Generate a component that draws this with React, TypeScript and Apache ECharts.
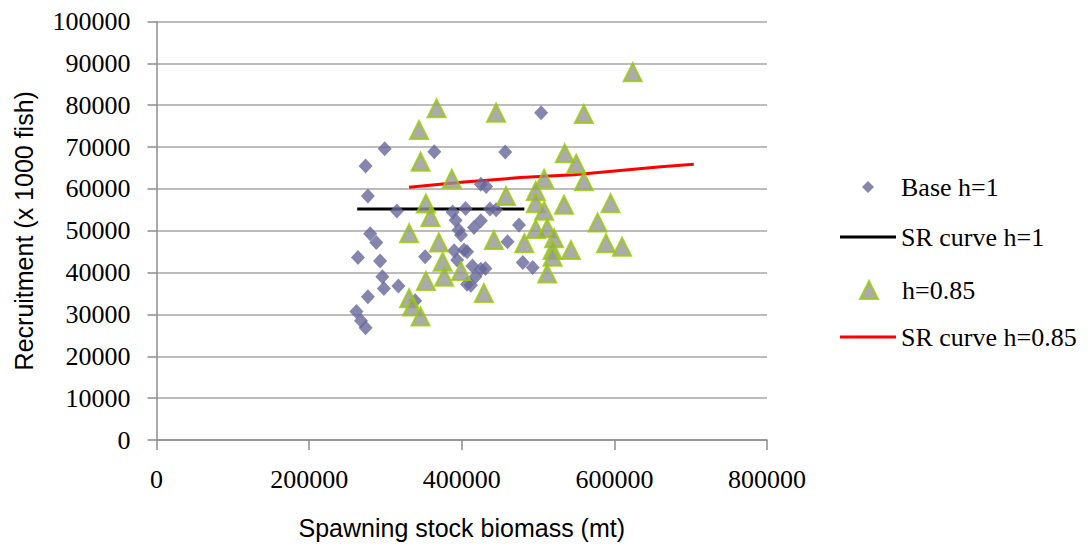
import React, { useEffect, useRef } from "react";
import * as echarts from "echarts";

const baseSSB = [274000,277000,280000,288000,264000,293000,296000,298000,317000,277000,262000,268000,274000,299000,364000,315000,352000,339000,504000,457000,425000,432000,388000,405000,437000,445000,392000,396000,399000,416000,425000,475000,460000,390000,403000,407000,394000,414000,425000,431000,418000,407000,412000,480000,493000];
const baseRec = [65500,58300,49300,47200,43600,42800,39000,36200,36800,34200,30700,28500,26800,69600,68900,54700,43800,33300,78200,68800,61100,60600,54500,55300,55200,55000,52500,50200,49000,50800,52400,51400,47400,45200,45400,45000,43000,41600,40800,41000,39000,37200,37000,42400,41200];

const h85SSB = [624000,367000,445000,560000,344000,346000,535000,550000,560000,387000,508000,458000,497000,497000,353000,359000,534000,595000,508000,578000,331000,370000,442000,482000,497000,512000,521000,519000,543000,589000,610000,519000,375000,399000,377000,353000,512000,429000,331000,335000,346000];
const h85Rec = [87900,79300,78200,77900,74100,66500,68500,66000,61800,62400,62400,58300,59500,56600,56500,53300,56200,56600,54800,52000,49400,47200,47800,47000,50400,50600,48200,45400,45400,47000,46200,43800,42600,40400,39000,38000,39800,35100,33900,31900,29500];

const srBaseSSB = [263000, 482000];
const srBaseRec = [55200, 55200];

const sr85SSB = [331000, 399000, 477000, 547000, 661000, 704000];
const sr85Rec = [60400, 61600, 62700, 63400, 65300, 65900];

const seriesNames = ["Base h=1", "SR curve h=1", "h=0.85", "SR curve h=0.85"];

const zip = (xs: number[], ys: number[]) => xs.map((x, i) => [x, ys[i]]);

const SERIF = "'Liberation Serif', 'Times New Roman', serif";
const SANS = "'Liberation Sans', Arial, sans-serif";

export default function App() {
  const ref = useRef<HTMLDivElement>(null);
  useEffect(() => {
    if (!ref.current) return;
    const chart = echarts.init(ref.current, null, { renderer: "svg" });
    const CX = 868; // legend icon centre x
    const TEXT_X = 901; // legend text start x
    const mkLegend = (
      name: string,
      center: number,
      w: number,
      h: number,
      icon: string,
      color: string,
      border?: string
    ) => ({
      data: [{ name, icon, itemStyle: border ? { color, borderColor: border, borderWidth: 2 } : { color, borderWidth: 0 } }],
      orient: "vertical" as const,
      left: CX - w / 2,
      top: center - 14,
      itemWidth: w,
      itemHeight: h,
      itemGap: 0,
      padding: 0,
      textStyle: {
        fontFamily: SERIF,
        fontSize: 26,
        color: "#000",
        lineHeight: 28,
        padding: [0, 0, 0, TEXT_X - (CX + w / 2) - 5],
      },
      selectedMode: false,
    });
    chart.setOption({
      animation: false,
      backgroundColor: "#fff",
      grid: {
        left: 156.5,
        right: 1092 - 767,
        top: 21.5,
        bottom: 110,
        containLabel: false,
        outerBoundsMode: "none",
      },
      legend: [
        mkLegend(seriesNames[0], 187, 12, 12, "diamond", "#666699"),
        mkLegend(seriesNames[1], 237, 56, 3, "rect", "#000000"),
        mkLegend(seriesNames[2], 290, 18, 18, "triangle", "#969696", "#99cc00"),
        mkLegend(seriesNames[3], 337, 56, 3, "rect", "#ff0000"),
      ],
      xAxis: {
        type: "value",
        min: 0,
        max: 800000,
        interval: 200000,
        name: "Spawning stock biomass (mt)",
        nameLocation: "middle",
        nameGap: 75,
        nameTextStyle: { fontFamily: SANS, fontSize: 25, color: "#000" },
        axisLine: { show: true, lineStyle: { color: "#8c8c8c", width: 1.5 } },
        axisTick: { show: true, length: 10, lineStyle: { color: "#8c8c8c", width: 1.5 } },
        axisLabel: {
          fontFamily: SERIF,
          fontSize: 26,
          color: "#000",
          margin: 26,
          formatter: (v: number) => String(v),
        },
        splitLine: { show: false },
      },
      yAxis: {
        type: "value",
        min: 0,
        max: 100000,
        interval: 10000,
        name: "Recruitment (x 1000 fish)",
        nameLocation: "middle",
        nameRotate: 90,
        nameGap: 120,
        nameTextStyle: { fontFamily: SANS, fontSize: 25, color: "#000" },
        axisLine: { show: true, lineStyle: { color: "#8c8c8c", width: 1.5 } },
        axisTick: { show: true, length: 9, lineStyle: { color: "#8c8c8c", width: 1.5 } },
        axisLabel: {
          fontFamily: SERIF,
          fontSize: 26,
          color: "#000",
          margin: 26,
          formatter: (v: number) => String(v),
        },
        splitLine: { show: true, lineStyle: { color: "#a6a6a6", width: 1.5 } },
      },
      series: [
        {
          name: seriesNames[0],
          type: "scatter",
          z: 3,
          symbol: "diamond",
          symbolSize: [14, 15],
          itemStyle: { color: "#666699" },
          data: zip(baseSSB, baseRec),
        },
        {
          name: seriesNames[1],
          type: "line",
          z: 2,
          symbol: "none",
          lineStyle: { color: "#000", width: 3 },
          itemStyle: { color: "#000" },
          data: zip(srBaseSSB, srBaseRec),
        },
        {
          name: seriesNames[2],
          type: "scatter",
          z: 4,
          symbol: "triangle",
          symbolSize: [18, 18],
          itemStyle: { color: "#969696", borderColor: "#99cc00", borderWidth: 2 },
          data: zip(h85SSB, h85Rec),
        },
        {
          name: seriesNames[3],
          type: "line",
          z: 2,
          symbol: "none",
          lineStyle: { color: "#ff0000", width: 3 },
          itemStyle: { color: "#ff0000" },
          data: zip(sr85SSB, sr85Rec),
        },
      ],
    });
    return () => chart.dispose();
  }, []);
  return (
    <div
      ref={ref}
      style={{ position: "fixed", left: 0, top: 0, width: 1092, height: 550, background: "#fff" }}
    />
  );
}
